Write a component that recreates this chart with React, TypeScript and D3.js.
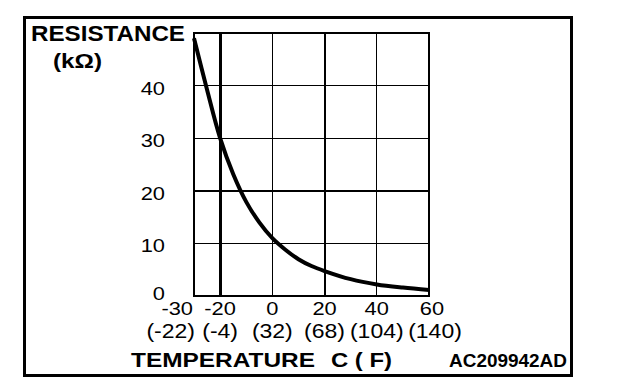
import React from "react";
import * as d3 from "d3";

const curveTemps = [-30, -25, -20, -15, -10, -5, 0, 5, 10, 15, 20, 30, 40, 50, 60];
const curveRes = [49, 39.2, 30, 23.2, 17.9, 14, 11, 8.8, 7.0, 5.7, 4.75, 3.2, 2.2, 1.6, 1.15];

const xTicksC = [-30, -20, 0, 20, 40, 60];
const xTicksF = ["(-22)", "(-4)", "(32)", "(68)", "(104)", "(140)"];
const yTicks = [0, 10, 20, 30, 40];
const vGrid = [-20, 0, 20, 40];
const hGrid = [10, 20, 30, 40];

const FONT = "'Liberation Sans', Arial, Helvetica, sans-serif";

export default function App() {
  const x = d3.scaleLinear().domain([-30, 60]).range([194, 429]);
  const y = d3.scaleLinear().domain([0, 50]).range([296, 33]);
  const pts = curveTemps.map((t, i) => [t, curveRes[i]] as [number, number]);
  const line = d3
    .line<[number, number]>()
    .x((d) => x(d[0]))
    .y((d) => y(d[1]))
    .curve(d3.curveCatmullRom.alpha(0.5));

  const vw = (t: number) => (t === -20 ? 3 : t === 20 ? 2 : 1);
  const hw = (v: number) => (v === 20 ? 2 : 1);

  return (
    <svg
      width={624}
      height={388}
      style={{ position: "absolute", left: 0, top: 0, background: "#fff" }}
      fontFamily={FONT}
    >
      <rect x={0} y={0} width={624} height={388} fill="#fff" />
      {/* outer frame */}
      <rect x={24} y={17} width={547} height={358} fill="none" stroke="#000" strokeWidth={3} shapeRendering="crispEdges" />

      {/* grid */}
      {vGrid.map((t) => (
        <line key={"v" + t} x1={x(t)} x2={x(t)} y1={y(50)} y2={y(0)} stroke="#000" strokeWidth={vw(t)} shapeRendering="crispEdges" />
      ))}
      {hGrid.map((v) => (
        <line key={"h" + v} x1={x(-30)} x2={x(60)} y1={y(v)} y2={y(v)} stroke="#000" strokeWidth={hw(v)} shapeRendering="crispEdges" />
      ))}
      <rect
        x={x(-30)}
        y={y(50)}
        width={x(60) - x(-30)}
        height={y(0) - y(50)}
        fill="none"
        stroke="#000"
        strokeWidth={2}
        shapeRendering="crispEdges"
      />

      {/* curve */}
      <path d={line(pts) || ""} fill="none" stroke="#000" strokeWidth={4} strokeLinejoin="round" />

      {/* y tick labels */}
      {yTicks.map((v) => (
        <text
          key={"y" + v}
          transform={`translate(165,${y(v) + (v === 0 ? 4 : 9)}) scale(1.15,1)`}
          textAnchor="end"
          fontSize={19}
          fill="#000"
        >
          {v}
        </text>
      ))}

      {/* x tick labels C */}
      {xTicksC.map((t, i) => (
        <text
          key={"c" + t}
          transform={`translate(${i === 0 ? x(t) - 1 : x(t) + (i === xTicksC.length - 1 ? 3 : 0)},315) scale(1.15,1)`}
          textAnchor={i === 0 ? "end" : "middle"}
          fontSize={19}
          fill="#000"
        >
          {t}
        </text>
      ))}
      {/* x tick labels F */}
      {xTicksF.map((s, i) => (
        <text
          key={"f" + s}
          transform={`translate(${i === 0 ? x(xTicksC[i]) + 1 : x(xTicksC[i]) + (i === xTicksF.length - 1 ? 6 : 0)},338) scale(1.15,1)`}
          textAnchor={i === 0 ? "end" : "middle"}
          fontSize={20}
          fill="#000"
        >
          {s}
        </text>
      ))}

      {/* titles */}
      <text x={31} y={41} fontSize={22} fontWeight="bold" textLength={154} lengthAdjust="spacingAndGlyphs">
        RESISTANCE
      </text>
      <text x={53} y={68} fontSize={20} fontWeight="bold" textLength={49} lengthAdjust="spacingAndGlyphs">
        (kΩ)
      </text>
      <text x={131} y={367} fontSize={21} fontWeight="bold" textLength={184} lengthAdjust="spacingAndGlyphs">
        TEMPERATURE
      </text>
      <text x={331} y={367} fontSize={21} fontWeight="bold" textLength={61} lengthAdjust="spacingAndGlyphs">
        C ( F)
      </text>
      <text x={449} y={367} fontSize={18} fontWeight="bold" textLength={118} lengthAdjust="spacingAndGlyphs">
        AC209942AD
      </text>
    </svg>
  );
}
